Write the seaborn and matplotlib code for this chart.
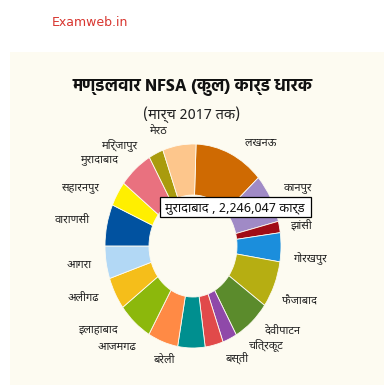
import matplotlib
matplotlib.use("Agg")
import matplotlib.pyplot as plt
from matplotlib.patches import Rectangle
import seaborn as sns

# divisions in clockwise order, starting at the top of the ring
DIVISIONS = ["लखनऊ", "कानपुर", "झांसी", "गोरखपुर", "फैजाबाद", "देवीपाटन",
             "चित्रकूट", "बस्ती", "बरेली", "आजमगढ", "इलाहाबाद", "अलीगढ",
             "आगरा", "वाराणसी", "सहारनपुर", "मुरादाबाद", "मिर्जापुर", "मेरठ"]
CARDS = [4633000, 2820000, 655000, 1662000, 2679000, 2518000,
         957000, 1209000, 1813000, 2014000, 2317000, 1853000,
         1873000, 2387000, 1440000, 2246047, 977000, 2216000]
COLORS = ["#CF6A02", "#A08AC6", "#A00C16", "#1B8EDC", "#B6AE12", "#5B8B2C",
          "#8F49A9", "#E14A4A", "#008F8F", "#FF8A45", "#8CB80C", "#F5BE1A",
          "#B2D8F5", "#0152A0", "#FFEF00", "#E9717F", "#A99B0D", "#FDC68C"]

# label anchor points in pixels (x, y from top-left)
LABEL_POS = [(261, 143), (297, 188), (302, 225), (310, 258), (299, 302), (283, 331),
             (265, 345), (238, 358), (165, 360), (117, 347), (98, 330), (83, 298),
             (79, 265), (73, 220), (80, 188), (99, 160), (119, 145), (158, 132)]

TITLE = "मण्डलवार NFSA (कुल) कार्ड धारक"
SUBTITLE = "(मार्च 2017 तक)"
TIP_INDEX = 15

W, H = 384, 390
CX, CY, RX, RY = 193, 246, 88, 102
PANEL = "#FDFBF1"

sns.set_theme(style="white")
plt.rcParams["font.family"] = ["Noto Sans Devanagari", "Mukta", "Hind", "DejaVu Sans"]

fig = plt.figure(figsize=(W / 100, H / 100), dpi=100)
fig.patch.set_facecolor("white")

bg = fig.add_axes([0, 0, 1, 1])
bg.set_xlim(0, W)
bg.set_ylim(H, 0)
bg.axis("off")
bg.add_patch(Rectangle((10, 52), W - 10, 333, facecolor=PANEL, edgecolor="none"))

bg.text(52, 22, "Examweb.in", color="#D8352F", fontsize=9, va="center",
        family=["DejaVu Sans"])
bg.text(192, 87, TITLE, ha="center", va="center", fontsize=12.5, fontweight="bold",
        color="#111111", family=["Hind", "Mukta", "Noto Sans Devanagari", "DejaVu Sans"])
bg.text(192, 115, SUBTITLE, ha="center", va="center", fontsize=10.5, color="#222222")

# ring axes: stretched box so the ring comes out oval like the reference
pie_ax = fig.add_axes([(CX - RX) / W, (H - CY - RY) / H, 2 * RX / W, 2 * RY / H])
pie_ax.pie(CARDS, colors=sns.color_palette(COLORS), startangle=88, counterclock=False,
           radius=1, wedgeprops=dict(width=0.5, edgecolor=PANEL, linewidth=0.6))
pie_ax.set_aspect("auto")
pie_ax.set_xlim(-1, 1)
pie_ax.set_ylim(-1, 1)
pie_ax.axis("off")

top = fig.add_axes([0, 0, 1, 1])
top.set_xlim(0, W)
top.set_ylim(H, 0)
top.axis("off")
for name, (x, y) in zip(DIVISIONS, LABEL_POS):
    top.text(x, y, name, ha="center", va="center", fontsize=8, color="#222222", zorder=2)

tip = "%s , %s कार्ड" % (DIVISIONS[TIP_INDEX], format(CARDS[TIP_INDEX], ","))
top.add_patch(Rectangle((160, 197), 151, 20, facecolor="white", edgecolor="black",
                        linewidth=0.9, zorder=5))
top.text(165, 207.5, tip, ha="left", va="center", fontsize=9.3, color="#111111", zorder=6)

fig.savefig("out.png", dpi=100)
